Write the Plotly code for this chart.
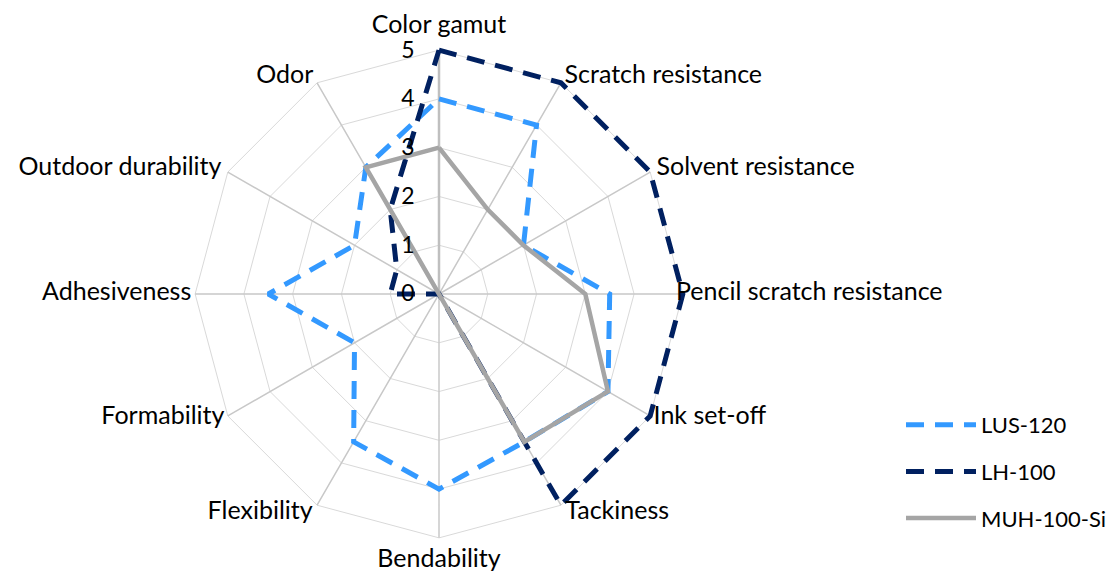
import plotly.graph_objects as go

categories = ["Color gamut", "Scratch resistance", "Solvent resistance",
              "Pencil scratch resistance", "Ink set-off", "Tackiness",
              "Bendability", "Flexibility", "Formability", "Adhesiveness",
              "Outdoor durability", "Odor"]

lus_120 = [4, 4, 2, 3.5, 4, 3.5, 4, 3.5, 2, 3.5, 2, 3]
lh_100 = [5, 5, 5, 5, 5, 5, 0, 0, 0, 1, 1, 2]
muh_100_si = [3, 2, 2, 3, 4, 3.5, 0, 0, 0, 0, 0, 3]

radial_ticks = [0, 1, 2, 3, 4, 5]
axis_max = 5

# label placement (style): radius and anchor for each category label
label_r = [5.49, 5.15, 5.15, 4.86, 5.08, 5.18, 5.46, 5.18, 5.08, 5.08, 5.15, 5.15]
label_pos = ["middle center", "middle right", "middle right", "middle right",
             "middle right", "middle right", "middle center", "middle left",
             "middle left", "middle left", "middle left", "middle left"]

series = [
    ("LUS-120", lus_120, "#3399FF", "18px,11px", 5),
    ("LH-100", lh_100, "#002060", "18px,11px", 5),
    ("MUH-100-Si", muh_100_si, "#A5A5A5", "solid", 4.5),
]

fig = go.Figure()

# spokes (angular grid) from centre to the outer ring
spoke_r, spoke_t = [], []
for c in categories:
    spoke_r += [0, axis_max]
    spoke_t += [c, c]
fig.add_trace(go.Scatterpolar(
    r=spoke_r, theta=spoke_t, mode="lines",
    line=dict(color="#C8C8C8", width=1.5),
    showlegend=False, hoverinfo="skip",
))
# value axis line (vertical spoke), slightly heavier
fig.add_trace(go.Scatterpolar(
    r=[0, axis_max], theta=[categories[0], categories[0]], mode="lines",
    line=dict(color="#BFBFBF", width=2.5),
    showlegend=False, hoverinfo="skip",
))

for i, (name, vals, color, dash, w) in enumerate(series):
    fig.add_trace(go.Scatterpolar(
        r=vals + vals[:1],
        theta=categories + categories[:1],
        mode="lines",
        name=name,
        legendgroup=name,
        line=dict(color=color, width=w, dash=dash),
    ))

fig.add_trace(go.Scatterpolar(
    r=label_r,
    theta=categories,
    mode="text",
    text=categories,
    textposition=label_pos,
    textfont=dict(size=25, color="#000000"),
    cliponaxis=False,
    showlegend=False,
    hoverinfo="skip",
))

W, H = 1115, 574
RMAX = 5.7
cx, cy, R = 431, 286, 278
fig.update_layout(
    width=W, height=H,
    margin=dict(l=0, r=0, t=0, b=0),
    paper_bgcolor="white",
    plot_bgcolor="white",
    font=dict(family="Lato, Carlito, Calibri, sans-serif", size=24, color="#000000"),
    showlegend=True,
    legend=dict(
        x=893 / W, y=1 - 396 / H, xanchor="left", yanchor="top",
        font=dict(size=22), itemwidth=70, tracegroupgap=15,
        traceorder="grouped", bgcolor="rgba(0,0,0,0)",
    ),
    polar=dict(
        domain=dict(x=[(cx - R) / W, (cx + R) / W], y=[1 - (cy + R) / H, 1 - (cy - R) / H]),
        gridshape="linear",
        bgcolor="rgba(0,0,0,0)",
        radialaxis=dict(
            range=[0, RMAX], tickvals=radial_ticks,
            ticktext=[str(t) + "\u00a0" * 3 + "\u2009" for t in radial_ticks],
            angle=90, tickangle=90, side="counterclockwise",
            showline=False,
            gridcolor="#D9D9D9", gridwidth=1.3, ticks="",
            tickfont=dict(size=23, color="#000000"),
        ),
        angularaxis=dict(
            rotation=90, direction="clockwise",
            showline=False, showticklabels=False, showgrid=False, ticks="",
        ),
    ),
)

fig.write_html("out.html")
